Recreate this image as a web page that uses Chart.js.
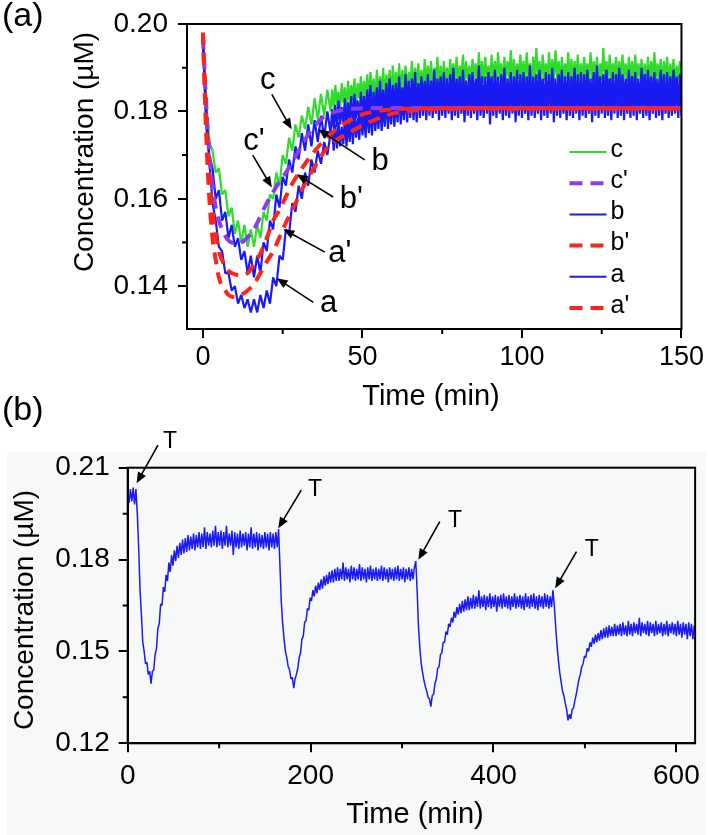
<!DOCTYPE html>
<html>
<head>
<meta charset="utf-8">
<script src="https://cdn.jsdelivr.net/npm/chart.js@4.4.0/dist/chart.umd.min.js"></script>
<style>
  body { margin: 0; background: #fff; width: 710px; height: 835px; position: relative; overflow: hidden; }
  canvas { position: absolute; left: 0; }
  #chartA { top: 0; }
  #chartB { top: 385px; }
</style>
</head>
<body>
<canvas id="chartA" width="710" height="420"></canvas>
<canvas id="chartB" width="710" height="450"></canvas>
<script>
// ---------- panel (a) data : one reading per minute up to 40 min, then every 0.5 min ----------
var cSeries = [0.198,0.183,0.173,0.171,0.166,0.167,0.161,0.162,0.156,0.158,
  0.152,0.155,0.150,0.154,0.149,0.153,0.149,0.154,0.151,0.157,
  0.155,0.161,0.160,0.166,0.163,0.170,0.168,0.174,0.171,0.177,
  0.174,0.179,0.176,0.181,0.177,0.183,0.178,0.184,0.179,0.185,
  0.180,
  0.1850,0.1805,0.1860,0.1815,0.1845,0.1800,0.1865,0.1820,0.1855,0.1810,
  0.1870,0.1815,0.1860,0.1825,0.1875,0.1810,0.1865,0.1830,0.1880,0.1820,
  0.1870,0.1830,0.1885,0.1825,0.1890,0.1835,0.1875,0.1820,0.1895,0.1835,
  0.1880,0.1840,0.1900,0.1830,0.1885,0.1845,0.1895,0.1835,0.1905,0.1840,
  0.1890,0.1845,0.1910,0.1840,0.1895,0.1850,0.1905,0.1845,0.1890,0.1855,
  0.1915,0.1845,0.1900,0.1855,0.1910,0.1850,0.1895,0.1845,0.1920,0.1855,
  0.1905,0.1860,0.1915,0.1850,0.1900,0.1865,0.1925,0.1855,0.1905,0.1860,
  0.1915,0.1865,0.1900,0.1855,0.1920,0.1870,0.1910,0.1860,0.1925,0.1865,
  0.1905,0.1870,0.1930,0.1860,0.1915,0.1870,0.1905,0.1865,0.1920,0.1875,
  0.1910,0.1860,0.1935,0.1870,0.1915,0.1865,0.1925,0.1875,0.1905,0.1865,
  0.1930,0.1870,0.1915,0.1865,0.1935,0.1875,0.1910,0.1860,0.1925,0.1870,
  0.1915,0.1875,0.1940,0.1865,0.1920,0.1870,0.1910,0.1875,0.1930,0.1865,
  0.1915,0.1870,0.1935,0.1875,0.1910,0.1860,0.1925,0.1870,0.1945,0.1875,
  0.1915,0.1865,0.1930,0.1870,0.1910,0.1875,0.1935,0.1865,0.1920,0.1870,
  0.1940,0.1875,0.1915,0.1860,0.1925,0.1870,0.1910,0.1875,0.1935,0.1865,
  0.1920,0.1870,0.1915,0.1875,0.1930,0.1865,0.1910,0.1870,0.1925,0.1875,
  0.1910,0.1865,0.1935,0.1870,0.1915,0.1875,0.1925,0.1860,0.1910,0.1870,
  0.1945,0.1875,0.1915,0.1865,0.1930,0.1870,0.1910,0.1875,0.1925,0.1865,
  0.1915,0.1870,0.1930,0.1875,0.1910,0.1865,0.1925,0.1870,0.1915,0.1860,
  0.1930,0.1870,0.1910,0.1875,0.1920,0.1865,0.1910,0.1870,0.1925,0.1865,
  0.1915,0.1870,0.1935,0.1865,0.1910,0.1875,0.1920,0.1860,0.1915,0.1870,
  0.1925,0.1865,0.1910,0.1870,0.1920,0.1865,0.1905,0.1870,0.1915,0.1875]
var bSeries = [0.196,0.181,0.170,0.167,0.160,0.162,0.155,0.157,0.151,0.154,
  0.149,0.151,0.146,0.148,0.143,0.147,0.142,0.147,0.143,0.150,
  0.148,0.155,0.153,0.161,0.158,0.165,0.163,0.169,0.166,0.172,
  0.169,0.175,0.171,0.177,0.172,0.178,0.173,0.179,0.174,0.180,
  0.175,
  0.1805,0.1760,0.1815,0.1765,0.1825,0.1770,0.1810,0.1775,0.1830,0.1765,
  0.1820,0.1780,0.1835,0.1770,0.1840,0.1785,0.1825,0.1775,0.1845,0.1790,
  0.1835,0.1785,0.1850,0.1790,0.1860,0.1780,0.1845,0.1795,0.1855,0.1790,
  0.1870,0.1800,0.1850,0.1795,0.1865,0.1805,0.1875,0.1795,0.1860,0.1810,
  0.1865,0.1800,0.1880,0.1810,0.1855,0.1805,0.1885,0.1815,0.1870,0.1800,
  0.1875,0.1815,0.1890,0.1805,0.1865,0.1820,0.1880,0.1810,0.1870,0.1820,
  0.1885,0.1810,0.1870,0.1825,0.1895,0.1815,0.1875,0.1820,0.1880,0.1810,
  0.1890,0.1820,0.1870,0.1815,0.1885,0.1825,0.1900,0.1810,0.1875,0.1820,
  0.1880,0.1815,0.1895,0.1825,0.1870,0.1810,0.1885,0.1820,0.1890,0.1815,
  0.1875,0.1825,0.1905,0.1815,0.1880,0.1820,0.1870,0.1810,0.1890,0.1825,
  0.1880,0.1815,0.1895,0.1820,0.1875,0.1810,0.1885,0.1825,0.1900,0.1815,
  0.1875,0.1820,0.1890,0.1810,0.1880,0.1825,0.1895,0.1815,0.1870,0.1820,
  0.1890,0.1815,0.1880,0.1825,0.1905,0.1810,0.1875,0.1820,0.1885,0.1815,
  0.1895,0.1820,0.1875,0.1810,0.1890,0.1825,0.1880,0.1815,0.1900,0.1820,
  0.1875,0.1815,0.1885,0.1825,0.1895,0.1810,0.1880,0.1820,0.1890,0.1815,
  0.1880,0.1825,0.1900,0.1815,0.1875,0.1820,0.1890,0.1810,0.1885,0.1825,
  0.1895,0.1815,0.1875,0.1820,0.1890,0.1810,0.1905,0.1825,0.1880,0.1815,
  0.1885,0.1820,0.1895,0.1815,0.1875,0.1825,0.1890,0.1810,0.1880,0.1820,
  0.1900,0.1815,0.1885,0.1825,0.1875,0.1810,0.1895,0.1820,0.1880,0.1815,
  0.1890,0.1825,0.1875,0.1810,0.1900,0.1820,0.1885,0.1815,0.1895,0.1825,
  0.1880,0.1810,0.1890,0.1820,0.1875,0.1815,0.1895,0.1825,0.1885,0.1810,
  0.1890,0.1820,0.1880,0.1815,0.1895,0.1825,0.1875,0.1810,0.1885,0.1820]
var aSeries = [0.196,0.177,0.169,0.159,0.155,0.149,0.148,0.143,0.143,0.139,
  0.140,0.136,0.138,0.135,0.137,0.134,0.137,0.134,0.138,0.135,
  0.139,0.136,0.142,0.140,0.147,0.146,0.153,0.152,0.159,0.157,
  0.163,0.160,0.166,0.163,0.169,0.166,0.171,0.168,0.173,0.170,
  0.175,
  0.1755,0.1710,0.1770,0.1715,0.1775,0.1720,0.1765,0.1725,0.1785,0.1720,
  0.1780,0.1730,0.1790,0.1725,0.1795,0.1740,0.1785,0.1735,0.1805,0.1745,
  0.1800,0.1740,0.1815,0.1750,0.1805,0.1745,0.1820,0.1755,0.1810,0.1760,
  0.1825,0.1755,0.1815,0.1765,0.1835,0.1760,0.1825,0.1770,0.1840,0.1765,
  0.1830,0.1775,0.1845,0.1770,0.1835,0.1780,0.1850,0.1775,0.1840,0.1785,
  0.1855,0.1780,0.1845,0.1775,0.1860,0.1785,0.1850,0.1790,0.1865,0.1780,
  0.1855,0.1790,0.1870,0.1785,0.1855,0.1795,0.1865,0.1780,0.1870,0.1790,
  0.1860,0.1785,0.1875,0.1795,0.1860,0.1780,0.1870,0.1790,0.1865,0.1785,
  0.1875,0.1795,0.1860,0.1775,0.1870,0.1790,0.1880,0.1785,0.1865,0.1795,
  0.1870,0.1780,0.1875,0.1790,0.1860,0.1785,0.1880,0.1795,0.1865,0.1770,
  0.1875,0.1790,0.1865,0.1785,0.1880,0.1795,0.1860,0.1780,0.1875,0.1790,
  0.1865,0.1785,0.1880,0.1795,0.1870,0.1775,0.1865,0.1790,0.1885,0.1785,
  0.1870,0.1795,0.1860,0.1780,0.1875,0.1790,0.1880,0.1785,0.1865,0.1795,
  0.1875,0.1780,0.1870,0.1790,0.1860,0.1785,0.1885,0.1795,0.1870,0.1775,
  0.1865,0.1790,0.1880,0.1785,0.1870,0.1795,0.1860,0.1780,0.1875,0.1790,
  0.1870,0.1785,0.1865,0.1795,0.1885,0.1780,0.1870,0.1790,0.1860,0.1785,
  0.1875,0.1795,0.1865,0.1775,0.1880,0.1790,0.1870,0.1785,0.1865,0.1795,
  0.1880,0.1785,0.1860,0.1790,0.1875,0.1780,0.1870,0.1795,0.1885,0.1785,
  0.1865,0.1790,0.1875,0.1780,0.1870,0.1795,0.1860,0.1785,0.1880,0.1790,
  0.1870,0.1780,0.1865,0.1795,0.1875,0.1785,0.1885,0.1790,0.1860,0.1780,
  0.1875,0.1795,0.1870,0.1785,0.1865,0.1790,0.1880,0.1780,0.1870,0.1795,
  0.1865,0.1785,0.1875,0.1790,0.1860,0.1795,0.1880,0.1785,0.1870,0.1790]
// smooth (dashed) fits
var dashTime = [0,1,2,3,4,5,6,7,8,9,10,12,14,16,18,20,22,24,26,28,30,32,34,36,38,40,42,45,50,55,60,65,70,80,90,100,110,120,130,140,150]
var cPrime = [0.197,0.182,0.170,0.163,0.158,0.155,0.153,0.1515,0.1505,0.150,0.1498,0.150,0.1512,0.153,0.156,0.159,0.1615,0.164,0.166,0.1685,0.171,0.1735,0.1758,0.1775,0.1788,0.1795,0.1800,0.1805,0.1807,0.1808,0.1808,0.1808,0.1808,0.1808,0.1808,0.1808,0.1808,0.1808,0.1808,0.1808,0.1808]
var bPrime = [0.198,0.178,0.165,0.157,0.152,0.148,0.146,0.1445,0.1435,0.143,0.1427,0.1425,0.143,0.145,0.1475,0.151,0.155,0.1575,0.1605,0.1635,0.1658,0.168,0.170,0.1718,0.1733,0.1748,0.176,0.1775,0.1793,0.1801,0.1805,0.1806,0.1807,0.1808,0.1808,0.1808,0.1808,0.1808,0.1808,0.1808,0.1808]
var aPrime = [0.198,0.175,0.160,0.151,0.146,0.142,0.140,0.139,0.138,0.1376,0.1375,0.138,0.139,0.1405,0.143,0.1456,0.148,0.1512,0.1545,0.1575,0.1605,0.1635,0.166,0.1685,0.1708,0.1725,0.1735,0.1748,0.1768,0.1784,0.1796,0.1801,0.1804,0.1806,0.1806,0.1806,0.1806,0.1806,0.1806,0.1806,0.1806]
var xTicksA = [0, 50, 100, 150]
var yTicksA = [0.14, 0.16, 0.18, 0.20]

// ---------- panel (b) data : one reading every 1.5 min ----------
var longConc = [0.2015,0.1985,0.2030,0.1990,0.2035,0.1980,0.2030,0.1950,0.1840,0.1700,
  0.1620,0.1530,0.1500,0.1460,0.1465,0.1425,0.1435,0.1395,0.1435,0.1440,
  0.1490,0.1510,0.1575,0.1590,0.1655,0.1650,0.1710,0.1695,0.1750,0.1730,
  0.1790,0.1760,0.1815,0.1780,0.1830,0.1795,0.1845,0.1805,0.1855,0.1815,
  0.1865,0.1820,0.1870,0.1825,0.1880,0.1830,0.1875,0.1835,0.1885,0.1830,
  0.1880,0.1840,0.1890,0.1835,0.1885,0.1840,0.1905,0.1835,0.1890,0.1845,
  0.1885,0.1840,0.1895,0.1845,0.1910,0.1840,0.1890,0.1845,0.1895,0.1835,
  0.1890,0.1845,0.1910,0.1840,0.1885,0.1845,0.1895,0.1815,0.1890,0.1840,
  0.1885,0.1835,0.1895,0.1840,0.1885,0.1845,0.1890,0.1830,0.1885,0.1840,
  0.1905,0.1835,0.1885,0.1840,0.1890,0.1830,0.1885,0.1840,0.1880,0.1835,
  0.1890,0.1840,0.1885,0.1830,0.1890,0.1840,0.1885,0.1835,0.1890,0.1840,
  0.1900,0.1780,0.1660,0.1590,0.1540,0.1500,0.1480,0.1450,0.1440,0.1410,
  0.1415,0.1380,0.1410,0.1425,0.1445,0.1480,0.1495,0.1540,0.1550,0.1595,
  0.1600,0.1640,0.1635,0.1675,0.1665,0.1700,0.1680,0.1715,0.1690,0.1725,
  0.1700,0.1735,0.1705,0.1745,0.1715,0.1750,0.1720,0.1760,0.1725,0.1765,
  0.1725,0.1770,0.1730,0.1775,0.1730,0.1770,0.1735,0.1790,0.1730,0.1775,
  0.1735,0.1770,0.1725,0.1780,0.1735,0.1775,0.1730,0.1770,0.1735,0.1785,
  0.1730,0.1775,0.1735,0.1770,0.1725,0.1775,0.1735,0.1780,0.1730,0.1770,
  0.1735,0.1775,0.1730,0.1770,0.1735,0.1780,0.1730,0.1775,0.1735,0.1770,
  0.1725,0.1775,0.1735,0.1770,0.1730,0.1775,0.1735,0.1780,0.1730,0.1770,
  0.1735,0.1775,0.1725,0.1770,0.1735,0.1775,0.1730,0.1770,0.1735,0.1775,
  0.1795,0.1700,0.1580,0.1510,0.1460,0.1430,0.1405,0.1385,0.1370,0.1350,
  0.1345,0.1320,0.1355,0.1360,0.1395,0.1410,0.1445,0.1450,0.1490,0.1495,
  0.1530,0.1530,0.1565,0.1555,0.1590,0.1580,0.1610,0.1595,0.1630,0.1610,
  0.1645,0.1620,0.1655,0.1625,0.1665,0.1630,0.1670,0.1635,0.1680,0.1635,
  0.1675,0.1640,0.1685,0.1640,0.1680,0.1645,0.1700,0.1640,0.1680,0.1645,
  0.1685,0.1635,0.1680,0.1645,0.1690,0.1640,0.1680,0.1645,0.1685,0.1630,
  0.1680,0.1645,0.1685,0.1640,0.1690,0.1645,0.1680,0.1640,0.1685,0.1635,
  0.1680,0.1645,0.1690,0.1640,0.1680,0.1645,0.1685,0.1640,0.1680,0.1635,
  0.1690,0.1645,0.1680,0.1640,0.1685,0.1645,0.1690,0.1640,0.1680,0.1635,
  0.1685,0.1645,0.1680,0.1640,0.1690,0.1645,0.1685,0.1640,0.1680,0.1645,
  0.1700,0.1650,0.1580,0.1520,0.1470,0.1430,0.1400,0.1370,0.1355,0.1330,
  0.1310,0.1275,0.1295,0.1280,0.1310,0.1315,0.1340,0.1360,0.1385,0.1410,
  0.1425,0.1450,0.1460,0.1485,0.1480,0.1510,0.1500,0.1530,0.1515,0.1545,
  0.1525,0.1555,0.1530,0.1560,0.1535,0.1570,0.1540,0.1575,0.1545,0.1580,
  0.1545,0.1585,0.1550,0.1580,0.1550,0.1590,0.1550,0.1585,0.1555,0.1590,
  0.1550,0.1595,0.1555,0.1585,0.1550,0.1600,0.1555,0.1590,0.1550,0.1595,
  0.1560,0.1590,0.1555,0.1610,0.1550,0.1595,0.1560,0.1590,0.1555,0.1600,
  0.1550,0.1595,0.1560,0.1590,0.1550,0.1600,0.1555,0.1590,0.1560,0.1595,
  0.1550,0.1590,0.1555,0.1600,0.1550,0.1590,0.1560,0.1595,0.1555,0.1590,
  0.1550,0.1600,0.1555,0.1590,0.1545,0.1595,0.1555,0.1590,0.1540,0.1595,
  0.1550,0.1590,0.1540,0.1585]
var xTicksB = [0, 200, 400, 600]
var yTicksB = [0.12, 0.15, 0.18, 0.21]

// sampling: 1 min up to 40 min, 0.5 min afterwards
var topTime = cSeries.map((v, i) => i <= 40 ? i : 40 + (i - 40) / 2)
var longTime = longConc.map((v, i) => i * 1.5)

var FONT = "'Liberation Sans', Arial, sans-serif"
var GREEN = '#2fdc2a', BLUE = '#1a1af2', RED = '#ff2419', PURPLE = '#8c3cf0'

function pts(xs, ys) {
    return ys.map((v, i) => ({x: xs[i], y: v}))
}

function arrow(ctx, x0, y0, x1, y1) {
    var a = Math.atan2(y1 - y0, x1 - x0), L = 11, W = 4.5
    var c = Math.cos(a), s = Math.sin(a)
    ctx.lineWidth = 1.6
    ctx.beginPath()
    ctx.moveTo(x0, y0)
    ctx.lineTo(x1 - L * 0.6 * c, y1 - L * 0.6 * s)
    ctx.stroke()
    ctx.beginPath()
    ctx.moveTo(x1, y1)
    ctx.lineTo(x1 - L * c + W * s, y1 - L * s - W * c)
    ctx.lineTo(x1 - L * c - W * s, y1 - L * s + W * c)
    ctx.closePath()
    ctx.fill()
}

// frame, minor ticks, axis titles, arrows + labels, legend
function makeDecor(cfg) {
    return {
        id: 'decor',
        beforeDraw(chart) {
            if (!cfg.background) return
            var ctx = chart.ctx, r = cfg.background.rect
            ctx.save()
            ctx.fillStyle = cfg.background.color
            ctx.fillRect(r[0], r[1], r[2], r[3])
            ctx.restore()
        },
        afterDraw(chart) {
            var ctx = chart.ctx, ca = chart.chartArea
            var x = chart.scales.x, y = chart.scales.y
            ctx.save()
            ctx.strokeStyle = '#000'
            ctx.fillStyle = '#000'
            ctx.lineWidth = 2
            ctx.strokeRect(ca.left, ca.top, ca.right - ca.left, ca.bottom - ca.top)
            ctx.beginPath()
            cfg.minorX.forEach(v => {
                var px = x.getPixelForValue(v)
                ctx.moveTo(px, ca.bottom); ctx.lineTo(px, ca.bottom + 5)
            })
            cfg.minorY.forEach(v => {
                var py = y.getPixelForValue(v)
                ctx.moveTo(ca.left - 5, py); ctx.lineTo(ca.left, py)
            })
            ctx.stroke()

            // axis titles
            ctx.textAlign = 'center'
            ctx.textBaseline = 'middle'
            ctx.font = cfg.xTitle.size + 'px ' + FONT
            ctx.fillText(cfg.xTitle.text, cfg.xTitle.pos[0], cfg.xTitle.pos[1])
            ctx.save()
            ctx.translate(cfg.yTitle.pos[0], cfg.yTitle.pos[1])
            ctx.rotate(-Math.PI / 2)
            ctx.font = cfg.yTitle.size + 'px ' + FONT
            ctx.fillText(cfg.yTitle.text, 0, 0)
            ctx.restore()

            // panel letter
            ctx.textAlign = 'left'
            ctx.textBaseline = 'alphabetic'
            ctx.font = '34px ' + FONT
            ctx.fillText(cfg.panel.text, cfg.panel.pos[0], cfg.panel.pos[1])

            // curve labels with arrows
            ctx.font = cfg.noteSize + 'px ' + FONT
            cfg.notes.forEach(n => {
                ctx.fillText(n.text, x.getPixelForValue(n.at[0]), y.getPixelForValue(n.at[1]))
                arrow(ctx, x.getPixelForValue(n.from[0]), y.getPixelForValue(n.from[1]),
                    x.getPixelForValue(n.to[0]), y.getPixelForValue(n.to[1]))
            })

            // legend inside the plot
            if (cfg.legend) {
                var lx0 = ca.right - 112, lx1 = ca.right - 75, tx = ca.right - 71
                ctx.font = '25px ' + FONT
                ctx.textBaseline = 'middle'
                chart.data.datasets.forEach((ds, i) => {
                    var ly = ca.top + 128 + i * 31.2
                    ctx.save()
                    ctx.strokeStyle = ds.borderColor
                    ctx.lineWidth = ds.borderDash ? 4 : 2
                    ctx.setLineDash(ds.borderDash ? [13, 8] : [])
                    ctx.beginPath()
                    ctx.moveTo(lx0, ly); ctx.lineTo(lx1, ly)
                    ctx.stroke()
                    ctx.restore()
                    ctx.fillText(ds.label, tx, ly - 2)
                })
            }
            ctx.restore()
        }
    }
}

function axisX(min, max, ticks, size, pad, height) {
    return {
        type: 'linear', min: min, max: max,
        afterBuildTicks: s => { s.ticks = ticks.map(v => ({value: v})) },
        afterFit: s => { s.height = height },
        grid: {drawOnChartArea: false, color: '#000', lineWidth: 2, tickLength: 9},
        border: {color: '#000', width: 2},
        ticks: {color: '#000', autoSkip: false, maxRotation: 0, padding: pad,
            font: {family: FONT, size: size, lineHeight: 1}}
    }
}

function axisY(min, max, ticks, pad, width) {
    return {
        min: min, max: max,
        afterBuildTicks: s => { s.ticks = ticks.map(v => ({value: v})) },
        afterFit: s => { s.width = width },
        grid: {drawOnChartArea: false, color: '#000', lineWidth: 2, tickLength: 9},
        border: {color: '#000', width: 2},
        ticks: {color: '#000', padding: pad, callback: v => v.toFixed(2),
            font: {family: FONT, size: 28, lineHeight: 1}}
    }
}

var baseOpts = {
    responsive: false, animation: false, events: [],
    elements: {point: {radius: 0}, line: {tension: 0, borderJoinStyle: 'bevel'}},
    plugins: {legend: {display: false}, tooltip: {enabled: false}}
}

// 圖 (a)
new Chart(document.getElementById('chartA'), {
    type: 'line',
    data: {
        datasets: [
            {label: 'c', data: pts(topTime, cSeries), borderColor: GREEN, borderWidth: 2.2, order: 6},
            {label: "c'", data: pts(dashTime, cPrime), borderColor: PURPLE, borderWidth: 4, borderDash: [12, 8], cubicInterpolationMode: 'monotone', order: 3},
            {label: 'b', data: pts(topTime, bSeries), borderColor: BLUE, borderWidth: 2.2, order: 5},
            {label: "b'", data: pts(dashTime, bPrime), borderColor: RED, borderWidth: 4, borderDash: [12, 8], cubicInterpolationMode: 'monotone', order: 2},
            {label: 'a', data: pts(topTime, aSeries), borderColor: BLUE, borderWidth: 2.2, order: 4},
            {label: "a'", data: pts(dashTime, aPrime), borderColor: RED, borderWidth: 4, borderDash: [12, 8], cubicInterpolationMode: 'monotone', order: 1}
        ]
    },
    options: Object.assign({}, baseOpts, {
        layout: {padding: {top: 15, right: 26.7, left: 0, bottom: 0}},
        scales: {
            x: axisX(-5, 150, xTicksA, 27, 6, 91),
            y: axisY(0.1302, 0.20, yTicksA, 10, 187)
        }
    }),
    plugins: [makeDecor({
        minorX: [25, 75, 125],
        minorY: [0.15, 0.17, 0.19],
        xTitle: {text: 'Time (min)', size: 29, pos: [431, 397]},
        yTitle: {text: 'Concentration (µM)', size: 28, pos: [85, 152]},
        panel: {text: '(a)', pos: [2, 26]},
        noteSize: 31,
        notes: [
            {text: 'c', at: [17.9, 0.1851], from: [21.6, 0.1839], to: [27.8, 0.1759]},
            {text: "c'", at: [12.6, 0.1711], from: [15.6, 0.1700], to: [21.6, 0.1626]},
            {text: 'b', at: [52.8, 0.1667], from: [50.7, 0.1689], to: [36.1, 0.1759]},
            {text: "b'", at: [42.9, 0.1578], from: [40.8, 0.1604], to: [29.4, 0.1656]},
            {text: "a'", at: [39.3, 0.1456], from: [38.2, 0.1478], to: [25.2, 0.1530]},
            {text: 'a', at: [36.7, 0.1341], from: [34.6, 0.1363], to: [23.1, 0.1418]}
        ],
        legend: true
    })]
})

// 圖 (b)
new Chart(document.getElementById('chartB'), {
    type: 'line',
    data: {
        datasets: [
            {label: 'Concentration', data: pts(longTime, longConc), borderColor: BLUE, borderWidth: 1.5}
        ]
    },
    options: Object.assign({}, baseOpts, {
        layout: {padding: {top: 82.7, right: 7.7, left: 0, bottom: 0}},
        scales: {
            x: axisX(0, 620.5, xTicksB, 28, 10, 91.7),
            y: axisY(0.12, 0.21, yTicksB, 9, 127.7)
        }
    }),
    plugins: [makeDecor({
        background: {color: '#f7f9f8', rect: [7, 67, 699, 383]},
        minorX: [100, 300, 500],
        minorY: [0.135, 0.165, 0.195],
        xTitle: {text: 'Time (min)', size: 29, pos: [415, 430]},
        yTitle: {text: 'Concentration (µM)', size: 28, pos: [25, 225]},
        panel: {text: '(b)', pos: [2, 35]},
        noteSize: 23,
        notes: [
            {text: 'T', at: [38.5, 0.2164], from: [33.1, 0.2174], to: [9.7, 0.2049]},
            {text: 'T', at: [197.1, 0.2006], from: [189.8, 0.2027], to: [164.6, 0.1902]},
            {text: 'T', at: [350.3, 0.1907], from: [341.2, 0.1924], to: [317.8, 0.1799]},
            {text: 'T', at: [499.8, 0.1812], from: [490.8, 0.1826], to: [467.4, 0.1706]}
        ],
        legend: false
    })]
})
</script>
</body>
</html>
